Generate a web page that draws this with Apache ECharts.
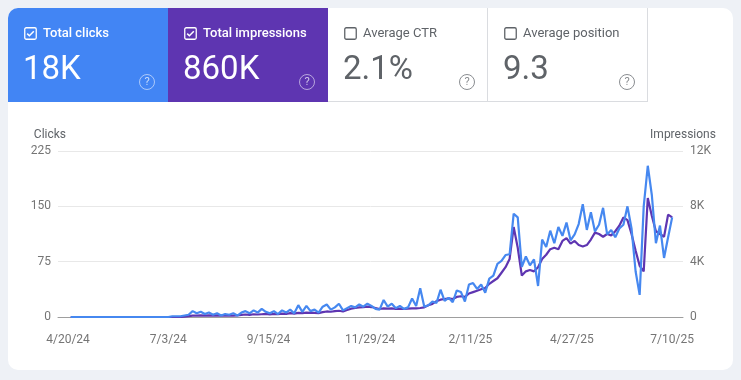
<!DOCTYPE html>
<html>
<head>
<meta charset="utf-8">
<script src="https://cdn.jsdelivr.net/npm/echarts@6/dist/echarts.min.js"></script>
<style>
  html, body { margin:0; padding:0; width:741px; height:380px; background:#eef1f6; overflow:hidden; font-family: Roboto, "Noto Sans", Arial, sans-serif; }
  #card { position:absolute; left:8px; top:8px; width:725px; height:362px; background:#fff; border-radius:10px; overflow:hidden; }
  #chart { position:absolute; left:0; top:0; width:741px; height:380px; }
  .tile { position:absolute; top:0; width:160px; height:94px; box-sizing:border-box; }
  .tile.sel1 { background:#4285f4; color:#fff; }
  .tile.sel2 { background:#5e35b1; color:#fff; }
  .tile.off { background:#fff; color:#5f6368; border-right:1px solid #dadce0; border-bottom:1px solid #dadce0; }
  .cb { position:absolute; left:16px; top:19px; width:13px; height:13px; }
  .lbl { position:absolute; left:35px; top:17px; font-size:13px; line-height:16px; white-space:nowrap; }
  .sel1 .lbl, .sel2 .lbl { font-weight:500; }
  .big { position:absolute; left:15px; top:43px; font-size:33px; line-height:33px; white-space:nowrap; }
  .help { position:absolute; left:131px; top:66px; width:16px; height:16px; box-sizing:border-box; border:1.3px solid; border-radius:50%; font-size:11px; line-height:13.5px; text-align:center; }
  .sel1 .help, .sel2 .help { border-color:rgba(255,255,255,0.55); color:rgba(255,255,255,0.7); }
  .off .help { border-color:#8a8d91; color:#8a8d91; }
</style>
</head>
<body>
<div id="card"></div>
<div id="chart"></div>
<div id="tiles" style="position:absolute;left:8px;top:8px;width:725px;height:94px;border-top-left-radius:10px;overflow:hidden;"></div>
<script>
// ---- data ----
var metricNames = ['Total clicks', 'Total impressions', 'Average CTR', 'Average position'];
var metricValues = ['18K', '860K', '2.1%', '9.3'];
var metricSelected = [true, true, false, false];

var xTickLabels = ['4/20/24', '7/3/24', '9/15/24', '11/29/24', '2/11/25', '4/27/25', '7/10/25'];
var firstDate = '4/22/24';
var stepDays = 3;

var clicks = [
  0,0,0,0,0,0,0,0,0,0,
  0,0,0,0,0,0,0,0,0,0,
  0,0,0,0,0,1,1,1,2,3,
  8,5,7,4,6,3,5,2,4,3,
  5,2,6,8,5,9,6,11,7,5,
  8,4,9,6,10,5,16,7,15,8,
  10,6,14,17,10,13,18,9,12,15,
  13,17,14,18,15,11,10,23,14,18,
  12,15,11,13,25,15,39,14,16,21,
  19,37,22,26,20,36,34,21,44,46,
  38,44,33,52,56,72,76,84,85,140,
  135,68,82,70,78,42,105,95,117,100,
  122,110,128,104,112,126,153,118,142,116,
  125,148,112,118,108,120,125,150,120,62,
  30,150,205,165,100,124,80,108,135
];
var impressions = [
  0,0,0,0,0,0,0,0,0,0,
  0,0,0,0,0,0,0,0,0,0,
  0,0,0,0,0,0,0,0,30,60,
  100,100,120,100,120,100,120,100,120,100,
  100,120,150,180,150,200,180,200,220,180,
  220,200,250,220,280,250,300,280,320,300,
  300,280,350,400,380,420,450,400,500,600,
  650,700,720,750,720,650,580,620,600,620,
  580,600,580,600,620,620,650,700,850,950,
  1150,1250,1300,1350,1300,1450,1500,1450,1700,1800,
  1900,2000,2100,2400,2600,2800,3200,3600,4200,6500,
  5000,3000,3300,3400,3300,3600,4200,4500,4900,5000,
  4900,5500,5700,5300,5500,5200,5100,5200,5600,6100,
  6000,5800,6000,5900,6200,6600,7200,7000,6000,4800,
  3700,3300,8600,7300,6200,6000,5800,7400,7200
];

// ---- helpers ----
var DAY = 86400000;
function parseMDY(s) {
  var p = s.split('/');
  return Date.UTC(2000 + (+p[2]), (+p[0]) - 1, +p[1]);
}
var origin = parseMDY(xTickLabels[0]);
function toDay(s) { return Math.round((parseMDY(s) - origin) / DAY); }
function fmtDay(d) {
  var dt = new Date(origin + Math.round(d) * DAY);
  return (dt.getUTCMonth() + 1) + '/' + dt.getUTCDate() + '/' + String(dt.getUTCFullYear()).slice(2);
}

// ---- tiles ----
var tilesEl = document.getElementById('tiles');
var tileCls = ['sel1', 'sel2', 'off', 'off'];
metricNames.forEach(function (name, i) {
  var t = document.createElement('div');
  t.className = 'tile ' + tileCls[i];
  t.style.left = (i * 160) + 'px';
  var stroke = metricSelected[i] ? '#ffffff' : '#5f6368';
  var check = metricSelected[i] ? '<path d="M3.2 6.6 L5.4 8.8 L9.8 4.2" fill="none" stroke="#fff" stroke-width="1.5"/>' : '';
  t.innerHTML =
    '<svg class="cb" viewBox="0 0 13 13"><rect x="0.75" y="0.75" width="11.5" height="11.5" rx="1.5" fill="none" stroke="' + stroke + '" stroke-width="1.3"/>' + check + '</svg>' +
    '<div class="lbl">' + name + '</div>' +
    '<div class="big">' + metricValues[i] + '</div>' +
    '<div class="help">?</div>';
  tilesEl.appendChild(t);
});

// ---- chart ----
var d0 = toDay(firstDate);
var clickData = clicks.map(function (v, i) { return [d0 + i * stepDays, v]; });
var imprData = impressions.map(function (v, i) { return [d0 + i * stepDays, v]; });
var tickDays = xTickLabels.map(toDay);
var xMin = tickDays[0] - 7.4;
var xMax = tickDays[tickDays.length - 1] + 8;

var chart = echarts.init(document.getElementById('chart'), null, { renderer: 'canvas' });
chart.setOption({
  animation: false,
  backgroundColor: 'transparent',
  textStyle: { fontFamily: 'Roboto' },
  grid: { left: 58, right: 58, top: 151, bottom: 63 },
  xAxis: {
    type: 'value',
    min: xMin,
    max: xMax,
    axisLine: { show: true, onZero: false, lineStyle: { color: '#9e9e9e', width: 1 } },
    axisTick: { show: false },
    splitLine: { show: false },
    axisLabel: {
      customValues: tickDays,
      formatter: function (v) { return fmtDay(v); },
      color: '#757575',
      fontSize: 12,
      margin: 17,
      showMinLabel: true,
      showMaxLabel: true
    }
  },
  yAxis: [
    {
      type: 'value',
      name: 'Clicks',
      nameLocation: 'end',
      nameGap: 10,
      nameTextStyle: { color: '#5f6368', fontSize: 12, align: 'right', padding: [0, 2, 0, 0] },
      min: 0, max: 225, interval: 75,
      axisLine: { show: false },
      axisTick: { show: false },
      axisLabel: { color: '#757575', fontSize: 12, margin: 7 },
      splitLine: { show: true, lineStyle: { color: '#e8e8e8', width: 1 } }
    },
    {
      type: 'value',
      name: 'Impressions',
      nameLocation: 'end',
      nameGap: 10,
      nameTextStyle: { color: '#5f6368', fontSize: 12 },
      min: 0, max: 12000, interval: 4000,
      axisLine: { show: false },
      axisTick: { show: false },
      axisLabel: {
        color: '#757575', fontSize: 12, margin: 7,
        formatter: function (v) { return v === 0 ? '0' : (v / 1000) + 'K'; }
      },
      splitLine: { show: false }
    }
  ],
  series: [
    {
      name: 'Impressions',
      type: 'line',
      yAxisIndex: 1,
      data: imprData,
      showSymbol: false,
      symbol: 'none',
      lineStyle: { color: '#5e35b1', width: 2.2 },
      itemStyle: { color: '#5e35b1' },
      z: 2
    },
    {
      name: 'Clicks',
      type: 'line',
      yAxisIndex: 0,
      data: clickData,
      showSymbol: false,
      symbol: 'none',
      lineStyle: { color: '#4688f0', width: 2.2 },
      itemStyle: { color: '#4688f0' },
      z: 3
    }
  ]
});
</script>
</body>
</html>
